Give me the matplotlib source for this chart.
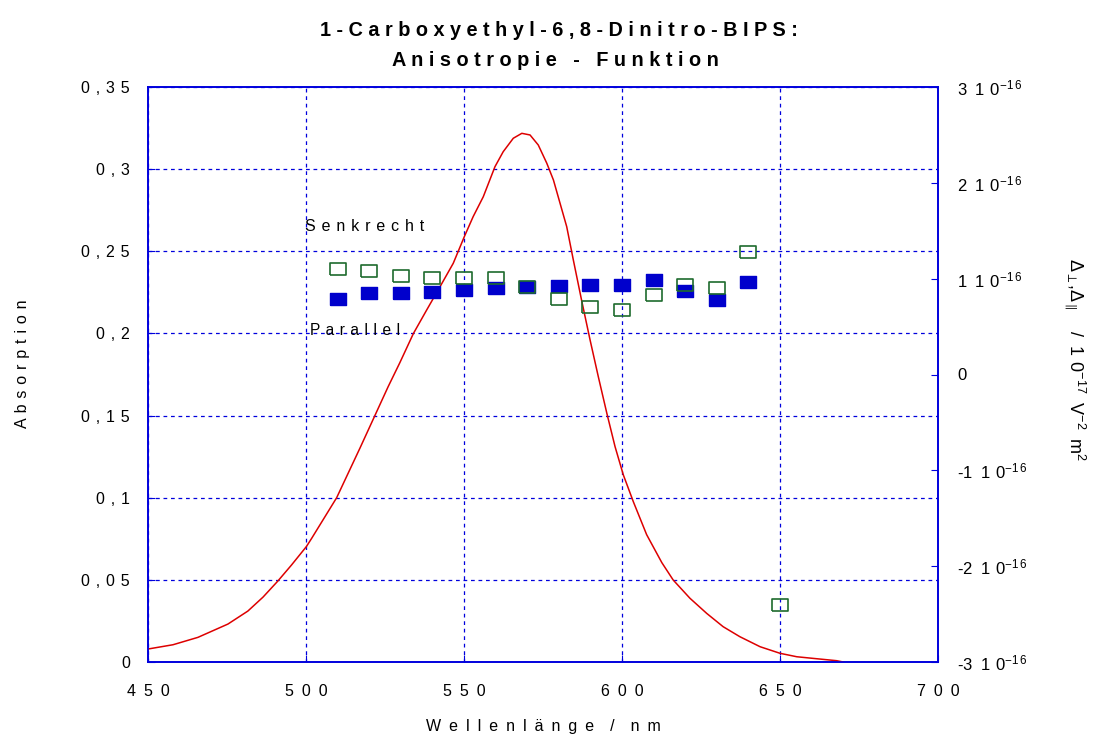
import matplotlib
matplotlib.use("Agg")
import matplotlib.pyplot as plt
import numpy as np

plt.rcParams['font.family'] = ['Liberation Sans', 'DejaVu Sans']
plt.rcParams['mathtext.fontset'] = 'custom'
plt.rcParams['mathtext.rm'] = 'Liberation Sans'
plt.rcParams['mathtext.it'] = 'Liberation Sans'
plt.rcParams['mathtext.bf'] = 'Liberation Sans:bold'

# Absorption spectrum (left axis)
spec_wl = [450, 457.9, 465.8, 475.3, 481.6, 486.4, 491.1, 495.4, 500.1, 501.8, 509.7, 517.1,
           521.8, 526.0, 529.7, 534.0, 538.2, 542.4, 546.6, 550.1, 552.9, 556.1, 559.8,
           562.4, 565.6, 568.3, 570.9, 573.5, 576.2, 578.3, 580.4, 582.5, 584.6, 587.2,
           589.9, 592.5, 595.2, 597.8, 600.4, 603.6, 607.8, 612.6, 616.2, 621.5, 626.8,
           632.0, 637.3, 643.7, 650.0, 655.3, 660.5, 667.9, 670.0]
spec_abs = [0.0079, 0.0105, 0.0150, 0.0231, 0.0310, 0.0395, 0.0493, 0.0590, 0.0702, 0.0753,
            0.1000, 0.1303, 0.1500, 0.1676, 0.1822, 0.2000, 0.2143, 0.2284, 0.2427, 0.2589,
            0.2711, 0.2832, 0.3015, 0.3106, 0.3188, 0.3218, 0.3208, 0.3147, 0.3036, 0.2934,
            0.2792, 0.2650, 0.2447, 0.2203, 0.1960, 0.1737, 0.1514, 0.1311, 0.1140, 0.0975,
            0.0775, 0.0605, 0.0499, 0.0388, 0.0296, 0.0215, 0.0154, 0.0093, 0.0053,
            0.0032, 0.0022, 0.0008, 0.0]

# Anisotropy points (right axis)
senk_wl = [510, 520, 530, 540, 550, 560, 570, 580, 590, 600, 610, 620, 630, 640, 650]
senk_val = [1.099e-16, 1.075e-16, 1.026e-16, 1.002e-16, 1.009e-16, 1.005e-16, 0.915e-16,
            0.790e-16, 0.706e-16, 0.675e-16, 0.832e-16, 0.939e-16, 0.901e-16, 1.276e-16, -2.40e-16]
par_wl = [510, 520, 530, 540, 550, 560, 570, 580, 590, 600, 610, 620, 630, 640]
par_val = [0.790e-16, 0.853e-16, 0.853e-16, 0.866e-16, 0.877e-16, 0.901e-16, 0.911e-16,
           0.926e-16, 0.936e-16, 0.929e-16, 0.984e-16, 0.873e-16, 0.780e-16, 0.970e-16]

x_ticks = [450, 500, 550, 600, 650, 700]
y_ticks = [0, 0.05, 0.1, 0.15, 0.2, 0.25, 0.3, 0.35]
y_tick_labels = ["0", "0,05", "0,1", "0,15", "0,2", "0,25", "0,3", "0,35"]
r_ticks = [-3e-16, -2e-16, -1e-16, 0, 1e-16, 2e-16, 3e-16]
r_tick_mant = ["-3", "-2", "-1", "0", "1", "2", "3"]

GAP = " \u200a"
WIDE = "\u2002"


def sp(s, gap=GAP):
    return gap.join(s)


BLUE = "#0000dd"
fig = plt.figure(figsize=(11.01, 7.47), dpi=100)
ax = fig.add_axes([148/1101, 85/747, 790/1101, 575/747])

ax.plot(spec_wl, spec_abs, color="#dd0000", lw=1.1, zorder=3)
ax.set_xlim(450, 700)
ax.set_ylim(0, 0.35)
ax.set_xticks(x_ticks)
ax.set_xticklabels([sp(str(t), WIDE) for t in x_ticks])
ax.set_yticks(y_ticks)
ax.set_yticklabels([sp(t) for t in y_tick_labels])
ax.tick_params(axis='x', direction='in', length=5, color=BLUE, labelsize=11.5, pad=16)
ax.tick_params(axis='y', direction='in', length=5, color=BLUE, labelsize=11.5, pad=13)
ax.grid(True, color=BLUE, ls=(0, (3, 3)), lw=0.9)
for s in ax.spines.values():
    s.set_color(BLUE)
    s.set_linewidth(1.2)

ax.set_xlabel(sp("Wellenlänge", WIDE) + WIDE + WIDE + "/" + WIDE + WIDE + sp("nm", WIDE),
              fontsize=11.5, labelpad=14)
ax.set_ylabel(sp("Absorption"), fontsize=11.5)
ax.yaxis.set_label_coords(-(148 - 30) / 790, (662 - 364) / 575)

ax2 = ax.twinx()
ax2.set_ylim(-3e-16, 3e-16)
ax2.set_yticks(r_ticks)
ax2.set_yticklabels([(m if m == "0" else m + WIDE + "1" + GAP + "0" + r"$^{\mathrm{-1\,6}}$")
                     for m in r_tick_mant])
ax2.tick_params(axis='y', direction='in', length=5, color=BLUE, labelsize=12, pad=14)
for s in ax2.spines.values():
    s.set_color(BLUE)
    s.set_linewidth(1.2)

rect = [(-1, -0.8), (1, -0.8), (1, 0.8), (-1, 0.8), (-1, -0.8)]
ax2.plot(par_wl, par_val, ls='none', marker=rect, ms=11, mfc="#0000cc", mec="#0000cc", zorder=4)
ax2.plot(senk_wl, senk_val, ls='none', marker=rect, ms=11, mfc='none', mec="#1e6b2e", mew=1.2, zorder=5)

fig.text(1075/1101, 1 - 360/747,
         "Δ$_{\\perp}$,Δ$_{\\parallel}$" + WIDE + WIDE + "/" + WIDE + "1" + GAP + "0$^{-17}$" + WIDE
         + "V$^{-2}$" + WIDE + "m$^{2}$", rotation=-90, fontsize=13, ha='center', va='center')

ax.text(499.7, 0.2648, sp("Senkrecht"), fontsize=11.5, ha='left', va='center')
ax.text(501.3, 0.2015, sp("Parallel"), fontsize=11.2, ha='left', va='center')

fig.text(559/1101, 1 - 30/747, sp("1-Carboxyethyl-6,8-Dinitro-BIPS:", " "), fontsize=14.3,
         fontweight='bold', ha='center', va='center')
fig.text(555/1101, 1 - 60/747, sp("Anisotropie - Funktion", " "), fontsize=14.3,
         fontweight='bold', ha='center', va='center')

fig.savefig("out.png", dpi=100)
